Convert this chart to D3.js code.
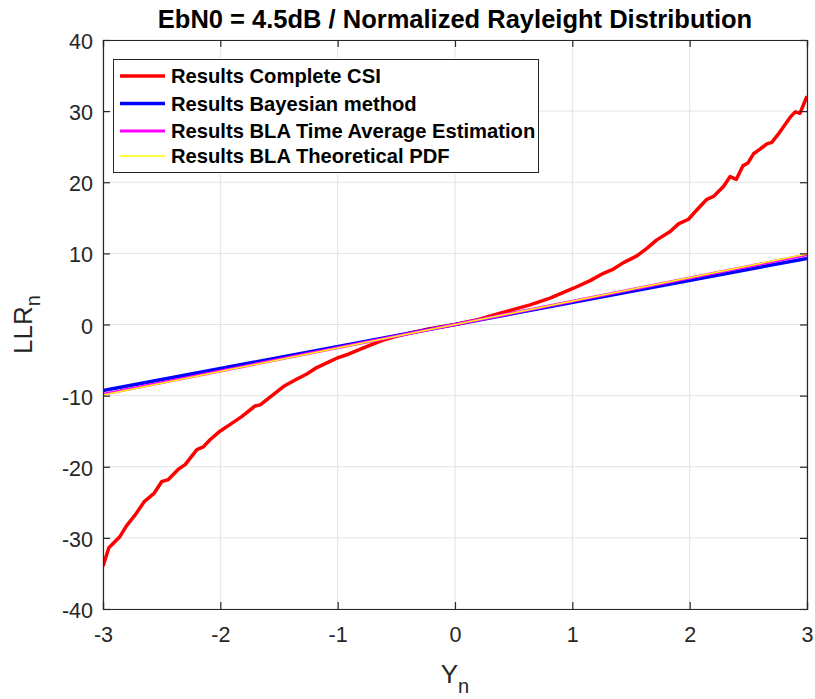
<!DOCTYPE html>
<html><head><meta charset="utf-8">
<script src="https://cdn.jsdelivr.net/npm/d3@7"></script>
<style>body{margin:0;background:#fff}svg{display:block}text{font-family:"Liberation Sans",Arial,Helvetica,sans-serif}</style>
</head><body><svg id="c" width="815" height="699"></svg>
<script>
// Data
const csiX = [-3,-2.95,-2.855,-2.8,-2.727,-2.648,-2.563,-2.5,-2.443,-2.358,-2.3,-2.2,-2.145,-2.088,-2.003,-1.903,-1.818,-1.704,-1.66,-1.59,-1.462,-1.363,-1.263,-1.178,-1.079,-1.008,-0.909,-0.837,-0.738,-0.624,-0.51,-0.368,-0.226,0,0.2,0.385,0.64,0.81,1.01,1.152,1.265,1.35,1.436,1.55,1.635,1.72,1.834,1.905,1.99,2.06,2.147,2.203,2.288,2.345,2.397,2.453,2.496,2.544,2.6,2.658,2.7,2.757,2.8,2.857,2.9,2.94,2.97,3];
const csiY = [-34.0,-31.4,-29.8,-28.3,-26.8,-24.9,-23.7,-22.1,-21.8,-20.35,-19.7,-17.6,-17.2,-16.2,-15.0,-13.9,-12.95,-11.45,-11.3,-10.4,-8.73,-7.8,-6.95,-6.06,-5.3,-4.74,-4.18,-3.67,-3.0,-2.26,-1.7,-1.14,-0.62,0.0,0.7,1.59,2.76,3.7,5.1,6.17,7.2,7.8,8.7,9.65,10.7,11.9,13.07,14.15,14.8,16.1,17.6,18.0,19.4,20.8,20.4,22.3,22.7,24.0,24.65,25.4,25.6,26.8,27.8,29.15,29.9,29.7,30.9,32.1];
const lineX = [-3, 3];
const bayesY = [-9.3, 9.3];
const blaTimeY = [-9.8, 9.8];
const blaPdfY = [-9.9, 9.9];
const xTicks = [-3,-2,-1,0,1,2,3];
const yTicks = [-40,-30,-20,-10,0,10,20,30,40];
const xTickLabels = ["-3","-2","-1","0","1","2","3"];
const yTickLabels = ["-40","-30","-20","-10","0","10","20","30","40"];
const seriesNames = ["Results Complete CSI","Results Bayesian method","Results BLA Time Average Estimation","Results BLA Theoretical PDF"];
const seriesColors = ["#ff0000","#0000ff","#ff00ff","#ffff00"];
const seriesWidths = [3.5,3.5,3,1.5];

const svg = d3.select("#c");
const L=103, R=807, T=40, B=609;
const x = d3.scaleLinear().domain([-3,3]).range([L,R]);
const y = d3.scaleLinear().domain([-40,40]).range([B,T]);

// grid
const g = svg.append("g");
g.selectAll(".gx").data(xTicks).join("line").attr("x1",d=>x(d)).attr("x2",d=>x(d)).attr("y1",T).attr("y2",B).attr("stroke","#e3e3e3").attr("stroke-width",1);
g.selectAll(".gy").data(yTicks).join("line").attr("y1",d=>y(d)).attr("y2",d=>y(d)).attr("x1",L).attr("x2",R).attr("stroke","#e3e3e3").attr("stroke-width",1);

// series
svg.append("clipPath").attr("id","clp").append("rect").attr("x",L).attr("y",T).attr("width",R-L).attr("height",B-T);
const lineGen = d3.line().x(d=>x(d[0])).y(d=>y(d[1]));
const plotG = svg.append("g").attr("clip-path","url(#clp)");
plotG.append("path").datum(csiX.map((v,i)=>[v,csiY[i]])).attr("d",lineGen).attr("fill","none").attr("stroke",seriesColors[0]).attr("stroke-width",seriesWidths[0]).attr("stroke-linejoin","round");
plotG.append("path").datum(lineX.map((v,i)=>[v,bayesY[i]])).attr("d",lineGen).attr("fill","none").attr("stroke",seriesColors[1]).attr("stroke-width",seriesWidths[1]);
plotG.append("path").datum(lineX.map((v,i)=>[v,blaTimeY[i]])).attr("d",lineGen).attr("fill","none").attr("stroke",seriesColors[2]).attr("stroke-width",seriesWidths[2]);
plotG.append("path").datum(lineX.map((v,i)=>[v,blaPdfY[i]])).attr("d",lineGen).attr("fill","none").attr("stroke",seriesColors[3]).attr("stroke-width",seriesWidths[3]);

// axes
const axCol="#262626";
const xa = svg.append("g").attr("transform",`translate(0,${B})`).call(d3.axisBottom(x).tickValues(xTicks).tickSize(-7).tickPadding(18).tickFormat((d,i)=>xTickLabels[i]));
const xt = svg.append("g").attr("transform",`translate(0,${T})`).call(d3.axisTop(x).tickValues(xTicks).tickSize(-7).tickFormat(""));
const ya = svg.append("g").attr("transform",`translate(${L},0)`).call(d3.axisLeft(y).tickValues(yTicks).tickSize(-7).tickPadding(10).tickFormat((d,i)=>yTickLabels[i]));
const yr = svg.append("g").attr("transform",`translate(${R},0)`).call(d3.axisRight(y).tickValues(yTicks).tickSize(-7).tickFormat(""));
[xa,xt,ya,yr].forEach(a=>{
  a.selectAll("path").attr("stroke",axCol).attr("stroke-width",1.2);
  a.selectAll("line").attr("stroke",axCol).attr("stroke-width",1.2);
  a.selectAll("text").attr("fill",axCol).style("font-size","21.5px").style("font-family","'Liberation Sans',Arial,sans-serif");
});
ya.selectAll("text").attr("dy","0.4em");

// title
svg.append("text").attr("x",(L+R)/2).attr("y",28).attr("text-anchor","middle").style("font-size","25.5px").style("font-weight","bold").attr("fill","#000").text("EbN0 = 4.5dB / Normalized Rayleight Distribution");

// axis labels
const yl = svg.append("text").attr("transform",`translate(32,${(T+B)/2}) rotate(-90)`).attr("text-anchor","middle").style("font-size","26px").attr("fill",axCol);
yl.append("tspan").text("LLR");
yl.append("tspan").attr("dy",8).style("font-size","20px").text("n");
const xl = svg.append("text").attr("x",(L+R)/2).attr("y",683).attr("text-anchor","middle").style("font-size","26px").attr("fill",axCol);
xl.append("tspan").text("Y");
xl.append("tspan").attr("dy",10).style("font-size","20px").text("n");

// legend
const lg = svg.append("g");
lg.append("rect").attr("x",113.5).attr("y",59.5).attr("width",425).attr("height",113).attr("fill","#fff").attr("stroke",axCol).attr("stroke-width",1);
const ly = [76,103.5,131,156];
seriesNames.forEach((n,i)=>{
  lg.append("line").attr("x1",120).attr("x2",165).attr("y1",ly[i]).attr("y2",ly[i]).attr("stroke",seriesColors[i]).attr("stroke-width",seriesWidths[i]);
  lg.append("text").attr("x",171).attr("y",ly[i]+7).style("font-size","20.2px").style("font-weight","bold").attr("fill","#000").text(n);
});
</script></body></html>
